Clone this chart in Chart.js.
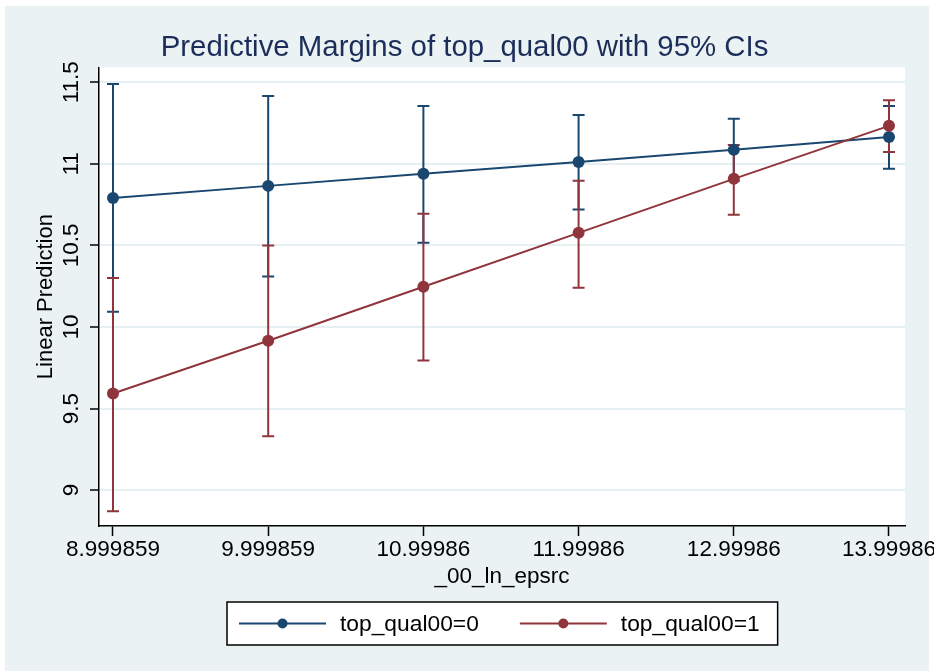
<!DOCTYPE html>
<html>
<head>
<meta charset="utf-8">
<title>Predictive Margins of top_qual00</title>
<script src="https://cdn.jsdelivr.net/npm/chart.js@4.4.0/dist/chart.umd.min.js"></script>
<style>
    html, body { margin: 0; padding: 0; background: #fff; }
    canvas { display: block; }
</style>
</head>
<body>
<canvas id="marginsChart" width="934" height="671"></canvas>
<script>
const xValues = [8.999859, 9.999859, 10.99986, 11.99986, 12.99986, 13.99986];
const xTickLabels = ['8.999859', '9.999859', '10.99986', '11.99986', '12.99986', '13.99986'];
const yTicks = [9, 9.5, 10, 10.5, 11, 11.5];
const yTickLabels = ['9', '9.5', '10', '10.5', '11', '11.5'];

const margin0 = [10.79, 10.865, 10.94, 11.012, 11.086, 11.165];
const lower0 = [10.094, 10.31, 10.516, 10.72, 10.896, 10.97];
const upper0 = [11.49, 11.416, 11.355, 11.30, 11.276, 11.355];

const margin1 = [9.592, 9.916, 10.247, 10.577, 10.908, 11.233];
const lower1 = [8.87, 9.33, 9.794, 10.24, 10.688, 11.073];
const upper1 = [10.30, 10.50, 10.694, 10.896, 11.116, 11.39];

const FONT = '"Liberation Sans", Arial, sans-serif';
const STATA_BLUE = '#1a476f';
const STATA_RED = '#90353b';
const OUTER_BG = '#eaf2f3';

function toPoints(ys) {
    return xValues.map((x, i) => ({ x: x, y: ys[i] }));
}

// Stata-like backdrop: light outer region, white plot region
const backgroundPlugin = {
    id: 'stataBackground',
    beforeDraw(chart) {
        const ctx = chart.ctx;
        const a = chart.chartArea;
        ctx.save();
        ctx.fillStyle = '#fff';
        ctx.fillRect(0, 0, chart.width, chart.height);
        ctx.fillStyle = OUTER_BG;
        ctx.fillRect(5, 6, chart.width - 10, chart.height - 6);
        ctx.fillStyle = '#fff';
        ctx.fillRect(a.left, a.top, a.right - a.left, a.bottom - a.top);
        ctx.restore();
    }
};

// 95% CI capped bars, drawn under the lines
const ciPlugin = {
    id: 'ciBars',
    beforeDatasetsDraw(chart) {
        const ctx = chart.ctx;
        const xs = chart.scales.x;
        const ys = chart.scales.y;
        chart.data.datasets.forEach(ds => {
            ctx.save();
            ctx.strokeStyle = ds.borderColor;
            ctx.lineWidth = 2;
            xValues.forEach((xv, i) => {
                const px = xs.getPixelForValue(xv);
                const hi = ys.getPixelForValue(ds.ciUpper[i]);
                const lo = ys.getPixelForValue(ds.ciLower[i]);
                ctx.beginPath();
                ctx.moveTo(px, hi);
                ctx.lineTo(px, lo);
                ctx.moveTo(px - 6, hi);
                ctx.lineTo(px + 6, hi);
                ctx.moveTo(px - 6, lo);
                ctx.lineTo(px + 6, lo);
                ctx.stroke();
            });
            ctx.restore();
        });
    }
};

// Boxed legend under the x axis title
const legendPlugin = {
    id: 'boxLegend',
    afterDraw(chart) {
        const ctx = chart.ctx;
        const a = chart.chartArea;
        const sample = 87, gap = 14, itemGap = 41, padL = 12, padR = 18;
        ctx.save();
        ctx.font = '22.8px ' + FONT;
        const items = chart.data.datasets.map(d => ({
            label: d.label,
            color: d.borderColor,
            w: ctx.measureText(d.label).width
        }));
        let total = padL + padR;
        items.forEach((it, i) => { total += sample + gap + it.w + (i ? itemGap : 0); });
        const left = Math.round((a.left + a.right) / 2 - total / 2);
        const top = 602, h = 43, cy = top + h / 2;

        ctx.fillStyle = '#fff';
        ctx.fillRect(left, top, total, h);
        ctx.strokeStyle = '#000';
        ctx.lineWidth = 1.5;
        ctx.strokeRect(left, top, total, h);

        let x = left + padL;
        items.forEach((it, i) => {
            if (i) x += itemGap;
            ctx.strokeStyle = it.color;
            ctx.lineWidth = 2;
            ctx.beginPath();
            ctx.moveTo(x, cy);
            ctx.lineTo(x + sample, cy);
            ctx.stroke();
            ctx.fillStyle = it.color;
            ctx.beginPath();
            ctx.arc(x + sample / 2, cy, 5, 0, Math.PI * 2);
            ctx.fill();
            x += sample + gap;
            ctx.fillStyle = '#000';
            ctx.textBaseline = 'middle';
            ctx.textAlign = 'left';
            ctx.fillText(it.label, x, cy + 1);
            x += it.w;
        });
        ctx.restore();
    }
};

const ctx = document.getElementById('marginsChart').getContext('2d');
new Chart(ctx, {
    type: 'line',
    data: {
        datasets: [{
            label: 'top_qual00=0',
            data: toPoints(margin0),
            ciLower: lower0,
            ciUpper: upper0,
            borderColor: STATA_BLUE,
            backgroundColor: STATA_BLUE,
            pointBackgroundColor: STATA_BLUE,
            borderWidth: 2,
            pointRadius: 6,
            pointBorderWidth: 0,
            tension: 0,
            order: 1
        }, {
            label: 'top_qual00=1',
            data: toPoints(margin1),
            ciLower: lower1,
            ciUpper: upper1,
            borderColor: STATA_RED,
            backgroundColor: STATA_RED,
            pointBackgroundColor: STATA_RED,
            borderWidth: 2,
            pointRadius: 6,
            pointBorderWidth: 0,
            tension: 0,
            order: 0
        }]
    },
    options: {
        responsive: false,
        animation: false,
        events: [],
        layout: {
            padding: { top: 12, left: 24, right: 29, bottom: 65 }
        },
        plugins: {
            legend: { display: false },
            tooltip: { enabled: false },
            title: {
                display: true,
                text: 'Predictive Margins of top_qual00 with 95% CIs',
                color: '#1c2d5a',
                font: { family: FONT, size: 29.4, weight: 'normal' },
                padding: { top: 18, bottom: 2 }
            }
        },
        scales: {
            x: {
                type: 'linear',
                min: 8.9097,
                max: 14.103,
                afterBuildTicks: scale => {
                    scale.ticks = xValues.map(v => ({ value: v }));
                },
                afterFit: scale => {
                    scale.height = 80;
                    scale.paddingLeft = 0;
                    scale.paddingRight = 0;
                },
                ticks: {
                    autoSkip: false,
                    minRotation: 0,
                    maxRotation: 0,
                    padding: 0,
                    color: '#000',
                    font: { family: FONT, size: 22.5 },
                    callback: (value, index) => xTickLabels[index]
                },
                grid: {
                    drawOnChartArea: false,
                    tickColor: '#000',
                    tickLength: 10,
                    tickWidth: 1.5
                },
                border: { color: '#000', width: 1.5 },
                title: {
                    display: true,
                    text: '_00_ln_epsrc',
                    color: '#000',
                    font: { family: FONT, size: 22.5 },
                    padding: { top: 0, bottom: 16 }
                }
            },
            y: {
                min: 8.78,
                max: 11.592,
                afterBuildTicks: scale => {
                    scale.ticks = yTicks.map(v => ({ value: v }));
                },
                afterFit: scale => {
                    scale.width = 75;
                    scale.paddingTop = 0;
                    scale.paddingBottom = 0;
                },
                ticks: {
                    minRotation: 90,
                    maxRotation: 90,
                    crossAlign: 'center',
                    padding: -4,
                    color: '#000',
                    font: { family: FONT, size: 22.5 },
                    callback: value => yTickLabels[yTicks.indexOf(value)]
                },
                grid: {
                    color: '#e6eff1',
                    lineWidth: 2,
                    tickColor: '#000',
                    tickLength: 9,
                    tickWidth: 1.5
                },
                border: { color: '#000', width: 1.5 },
                title: {
                    display: true,
                    text: 'Linear Prediction',
                    color: '#000',
                    font: { family: FONT, size: 22 },
                    padding: { top: 9, bottom: 0 }
                }
            }
        }
    },
    plugins: [backgroundPlugin, ciPlugin, legendPlugin]
});
</script>
</body>
</html>
